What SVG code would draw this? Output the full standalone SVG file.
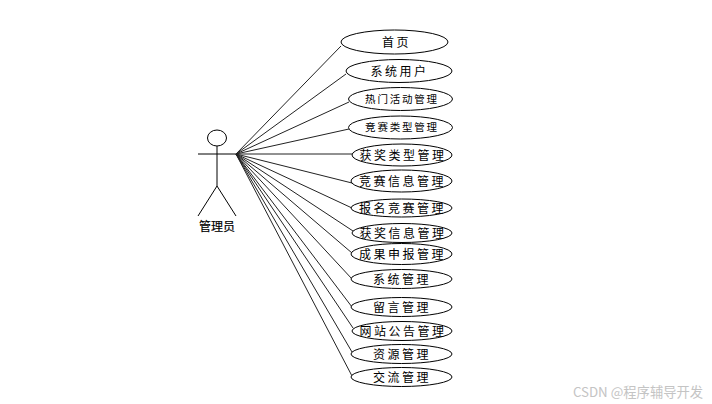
<svg xmlns="http://www.w3.org/2000/svg" width="712" height="404" viewBox="0 0 712 404">
<style>
.u{fill:#fff;stroke:#000;stroke-width:1}
.c line,.a line,.a ellipse{stroke:#000;stroke-width:1;fill:#fff}
.c line{stroke:#222}
text{font-family:"Noto Sans CJK SC","Liberation Sans",sans-serif;fill:#000;text-anchor:middle;dominant-baseline:central}
.l{font-size:12px;letter-spacing:2.500px}
.m{font-size:12px;letter-spacing:2.500px}
.s{font-size:10.500px;letter-spacing:1.800px}
</style>
<rect width="712" height="404" fill="#fff"/>
<g id="connectors" class="c">
<line x1="236" y1="154" x2="341" y2="46"/>
<line x1="236" y1="154" x2="346" y2="74"/>
<line x1="236" y1="154" x2="349" y2="102"/>
<line x1="236" y1="154" x2="349" y2="129"/>
<line x1="236" y1="154" x2="352" y2="154"/>
<line x1="236" y1="154" x2="352" y2="183"/>
<line x1="236" y1="154" x2="352" y2="208"/>
<line x1="236" y1="154" x2="353" y2="231"/>
<line x1="236" y1="154" x2="352" y2="253"/>
<line x1="236" y1="154" x2="352" y2="279"/>
<line x1="236" y1="154" x2="352" y2="307"/>
<line x1="236" y1="154" x2="353" y2="328"/>
<line x1="236" y1="154" x2="352" y2="352"/>
<line x1="236" y1="154" x2="352" y2="376"/>
</g>
<g id="actor" class="a">
<ellipse cx="217" cy="138" rx="9.500" ry="8"/>
<line x1="217" y1="146" x2="217" y2="186"/>
<line x1="198" y1="154" x2="236" y2="154"/>
<line x1="217" y1="186" x2="198" y2="216"/>
<line x1="217" y1="186" x2="236" y2="216"/>
<text x="217" y="225.500" style="font-size:12px;stroke:#000;stroke-width:.2px">管理员</text>
</g>
<g id="n1"><ellipse class="u" cx="394.500" cy="42" rx="53.500" ry="12"/><text class="l" x="396.500" y="41" style="letter-spacing:2.500px">首页</text></g>
<g id="n2"><ellipse class="u" cx="399" cy="71" rx="53" ry="11.500"/><text class="l" x="399.500" y="70">系统用户</text></g>
<g id="n3"><ellipse class="u" cx="400.500" cy="99" rx="52" ry="11.500"/><text class="s" x="402" y="98">热门活动管理</text></g>
<g id="n4"><ellipse class="u" cx="400.500" cy="127.500" rx="52" ry="11.500"/><text class="s" x="402" y="126.500">竞赛类型管理</text></g>
<g id="n5"><ellipse class="u" cx="402" cy="155" rx="50" ry="11"/><text class="m" x="403" y="154">获奖类型管理</text></g>
<g id="n6"><ellipse class="u" cx="401.500" cy="181" rx="50.500" ry="11"/><text class="m" x="402.500" y="180">竞赛信息管理</text></g>
<g id="n7"><ellipse class="u" cx="401.500" cy="208" rx="50.500" ry="9"/><text class="m" x="402.500" y="207">报名竞赛管理</text></g>
<g id="n8"><ellipse class="u" cx="402" cy="233" rx="50" ry="9.500"/><text class="m" x="403" y="232">获奖信息管理</text></g>
<g id="n9"><ellipse class="u" cx="401.500" cy="254" rx="50.500" ry="10.500"/><text class="m" x="402.500" y="253">成果申报管理</text></g>
<g id="n10"><ellipse class="u" cx="401.500" cy="279" rx="50.500" ry="9.500"/><text class="m" x="402" y="278">系统管理</text></g>
<g id="n11"><ellipse class="u" cx="401.500" cy="307" rx="50.500" ry="9.500"/><text class="m" x="402" y="306">留言管理</text></g>
<g id="n12"><ellipse class="u" cx="402" cy="331" rx="50" ry="9.500"/><text class="m" x="403" y="330">网站公告管理</text></g>
<g id="n13"><ellipse class="u" cx="401.500" cy="354" rx="50.500" ry="9.500"/><text class="m" x="402" y="353">资源管理</text></g>
<g id="n14"><ellipse class="u" cx="401.500" cy="377" rx="50.500" ry="9.500"/><text class="m" x="402" y="376">交流管理</text></g>
<text x="638" y="391" style="font-size:13.300px;fill:#c4c4c4">CSDN @程序辅导开发</text>
</svg>
